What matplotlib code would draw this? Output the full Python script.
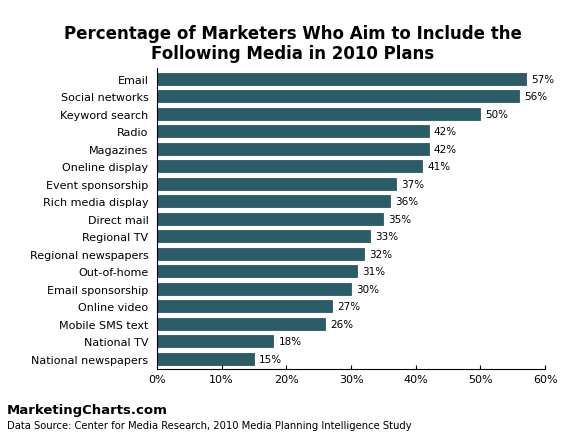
import matplotlib
matplotlib.use("Agg")
import matplotlib.pyplot as plt

categories = ["Email", "Social networks", "Keyword search", "Radio", "Magazines",
              "Oneline display", "Event sponsorship", "Rich media display", "Direct mail",
              "Regional TV", "Regional newspapers", "Out-of-home", "Email sponsorship",
              "Online video", "Mobile SMS text", "National TV", "National newspapers"]
values = [57, 56, 50, 42, 42, 41, 37, 36, 35, 33, 32, 31, 30, 27, 26, 18, 15]
xticks = [0, 10, 20, 30, 40, 50, 60]

fig = plt.figure(figsize=(5.85, 4.39), dpi=100)
ax = fig.add_axes([0.268, 0.157, 0.664, 0.685])
y = list(range(len(categories)))[::-1]
ax.barh(y, values, height=0.68, color="#2b5d69", edgecolor="#1e4650", linewidth=0.5)
for yi, v in zip(y, values):
    ax.text(v + 0.8, yi, f"{v}%", va="center", ha="left", fontsize=7.5)
ax.set_yticks(y)
ax.set_yticklabels(categories, fontsize=8)
ax.set_xticks(xticks)
ax.set_xticklabels([f"{t}%" for t in xticks], fontsize=8)
ax.set_xlim(0, 60)
ax.set_ylim(-0.6, len(categories) - 0.4)
for s in ["top", "right"]:
    ax.spines[s].set_visible(False)
ax.tick_params(axis="y", length=0, pad=6)
ax.tick_params(axis="x", length=3, direction="in")
fig.text(0.5, 0.9, "Percentage of Marketers Who Aim to Include the\nFollowing Media in 2010 Plans",
         ha="center", va="center", fontsize=12, fontweight="bold", linespacing=1.15)
fig.text(0.012, 0.066, "MarketingCharts.com", fontsize=9.5, fontweight="bold", va="center")
fig.text(0.012, 0.03, "Data Source: Center for Media Research, 2010 Media Planning Intelligence Study",
         fontsize=7.2, va="center")
fig.savefig("out.png", dpi=100)
